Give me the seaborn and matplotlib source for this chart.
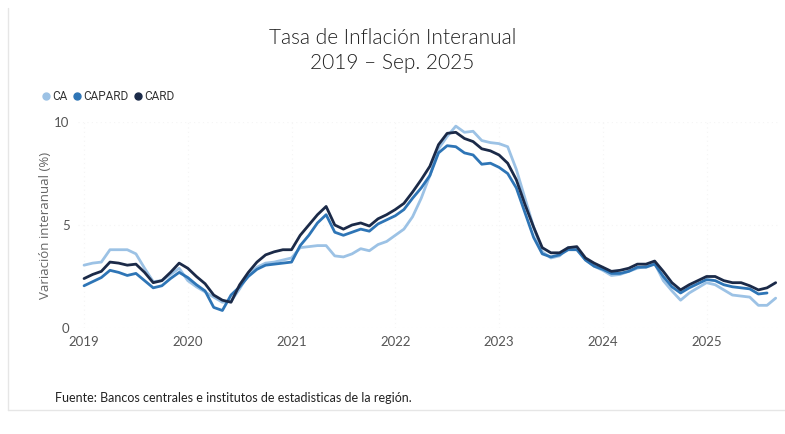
import matplotlib.pyplot as plt
import matplotlib.lines as mlines
import seaborn as sns
import pandas as pd
import numpy as np

# ----------------------------
# Data: monthly year-on-year inflation, Jan 2019 - Sep 2025
# ----------------------------
years = ["2019", "2020", "2021", "2022", "2023", "2024", "2025"]

ca = [3.05, 3.15, 3.2, 3.8, 3.8, 3.8, 3.6, 2.9, 2.25, 2.3, 2.6, 2.9,
      2.3, 2.0, 1.75, 1.5, 1.25, 1.3, 1.9, 2.6, 2.95, 3.15, 3.2, 3.3,
      3.4, 3.9, 3.95, 4.0, 4.0, 3.5, 3.45, 3.6, 3.85, 3.75, 4.05, 4.2,
      4.5, 4.8, 5.4, 6.3, 7.4, 8.7, 9.3, 9.8, 9.5, 9.55, 9.1, 9.0,
      8.95, 8.8, 7.7, 6.3, 4.9, 3.7, 3.4, 3.5, 3.9, 3.85, 3.3, 3.0,
      2.8, 2.55, 2.6, 2.75, 2.9, 3.0, 3.15, 2.3, 1.8, 1.35, 1.7, 1.95,
      2.2, 2.1, 1.85, 1.6, 1.55, 1.5, 1.1, 1.1, 1.45]

capard = [2.05, 2.25, 2.45, 2.8, 2.7, 2.55, 2.65, 2.3, 1.95, 2.05, 2.4, 2.7,
          2.45, 2.1, 1.8, 1.0, 0.85, 1.6, 2.0, 2.5, 2.85, 3.05, 3.1, 3.15,
          3.2, 4.0, 4.5, 5.1, 5.5, 4.65, 4.5, 4.65, 4.8, 4.7, 5.05, 5.25,
          5.45, 5.75, 6.3, 6.8, 7.4, 8.5, 8.85, 8.8, 8.5, 8.4, 7.95, 8.0,
          7.8, 7.5, 6.8, 5.6, 4.4, 3.6, 3.45, 3.55, 3.8, 3.8, 3.3, 3.0,
          2.85, 2.65, 2.65, 2.75, 2.95, 2.95, 3.1, 2.5, 2.0, 1.7, 1.95, 2.15,
          2.35, 2.3, 2.1, 2.0, 1.95, 1.9, 1.65, 1.7, np.nan]

card = [2.4, 2.6, 2.75, 3.2, 3.15, 3.05, 3.1, 2.7, 2.2, 2.3, 2.7, 3.15,
        2.9, 2.5, 2.15, 1.6, 1.35, 1.25, 2.1, 2.7, 3.2, 3.55, 3.7, 3.8,
        3.8, 4.5, 5.0, 5.5, 5.9, 5.0, 4.8, 5.0, 5.1, 4.95, 5.3, 5.5,
        5.75, 6.05, 6.6, 7.2, 7.85, 8.9, 9.45, 9.5, 9.2, 9.05, 8.7, 8.6,
        8.4, 8.0, 7.2, 6.0, 4.9, 3.9, 3.65, 3.65, 3.9, 3.95, 3.4, 3.15,
        2.95, 2.75, 2.8, 2.9, 3.1, 3.1, 3.25, 2.75, 2.2, 1.85, 2.1, 2.3,
        2.5, 2.5, 2.3, 2.2, 2.2, 2.05, 1.85, 1.95, 2.2]

series = ["CA", "CAPARD", "CARD"]
colors = {"CA": "#9cc2e5", "CAPARD": "#2e75b6", "CARD": "#1b2a48"}

month = np.arange(len(card))
df = pd.DataFrame({"mes": month, "CA": ca, "CAPARD": capard, "CARD": card})
long = df.melt(id_vars="mes", var_name="serie", value_name="valor").dropna()

# ----------------------------
# Plot
# ----------------------------
sns.set_style("white")
plt.rcParams["font.family"] = ["Lato", "DejaVu Sans"]
narrow = ["Liberation Sans Narrow", "Roboto", "DejaVu Sans"]

fig = plt.figure(figsize=(7.85, 4.34), dpi=100)
ax = fig.add_axes([78 / 785, 1 - 328 / 434, 702 / 785, 206 / 434])

sns.lineplot(data=long, x="mes", y="valor", hue="serie", hue_order=series,
             palette=colors, linewidth=2.0, legend=False, ax=ax)

ax.set_xlim(-0.7, 80.5)
ax.set_ylim(0, 10)
ax.set_xticks(np.arange(0, 73, 12))
ax.set_xticklabels(years)
ax.set_yticks([0, 5, 10])
ax.set_yticklabels(["0", "5", "10"])
ax.tick_params(axis="both", length=0, labelsize=9.5, colors="#555555")
ax.tick_params(axis="x", pad=6)
ax.tick_params(axis="y", pad=6)
for s in ax.spines.values():
    s.set_visible(False)
ax.grid(True, color="#f5f5f5", linestyle=(0, (1, 3)), linewidth=0.8)
ax.set_xlabel("")
ax.set_ylabel("Variación interanual (%)", fontsize=9.5, color="#666666",
              family=["Open Sans", "DejaVu Sans"], labelpad=2)

# legend
handles = [mlines.Line2D([], [], color=colors[s], marker="o", linestyle="",
                         markersize=5) for s in series]
fig.legend(handles, series, loc="center left", bbox_to_anchor=(30 / 785, 1 - 97 / 434),
           ncol=3, frameon=False, handletextpad=0.05, handlelength=0.9,
           columnspacing=0.4, labelcolor="#333333",
           prop={"family": narrow, "size": 8.5})

# titles
fig.text(0.5, 1 - 38 / 434, "Tasa de Inflación Interanual", ha="center",
         va="center", fontsize=15, color="#222222", fontweight=300)
fig.text(0.5, 1 - 63 / 434, "2019 – Sep. 2025", ha="center", va="center",
         fontsize=15, color="#222222", fontweight=300)

fig.text(55 / 785, 1 - 398 / 434,
         "Fuente: Bancos centrales e institutos de estadisticas de la región.",
         ha="left", va="center", fontsize=9, color="#222222")

# light frame of the original screenshot
fig.add_artist(mlines.Line2D([8 / 785, 8 / 785], [1 - 410 / 434, 1 - 8 / 434],
                             color="#e6e6e6", linewidth=1))
fig.add_artist(mlines.Line2D([8 / 785, 1.0], [1 - 410 / 434, 1 - 410 / 434],
                             color="#e6e6e6", linewidth=1))

fig.savefig("out.png", dpi=100)
